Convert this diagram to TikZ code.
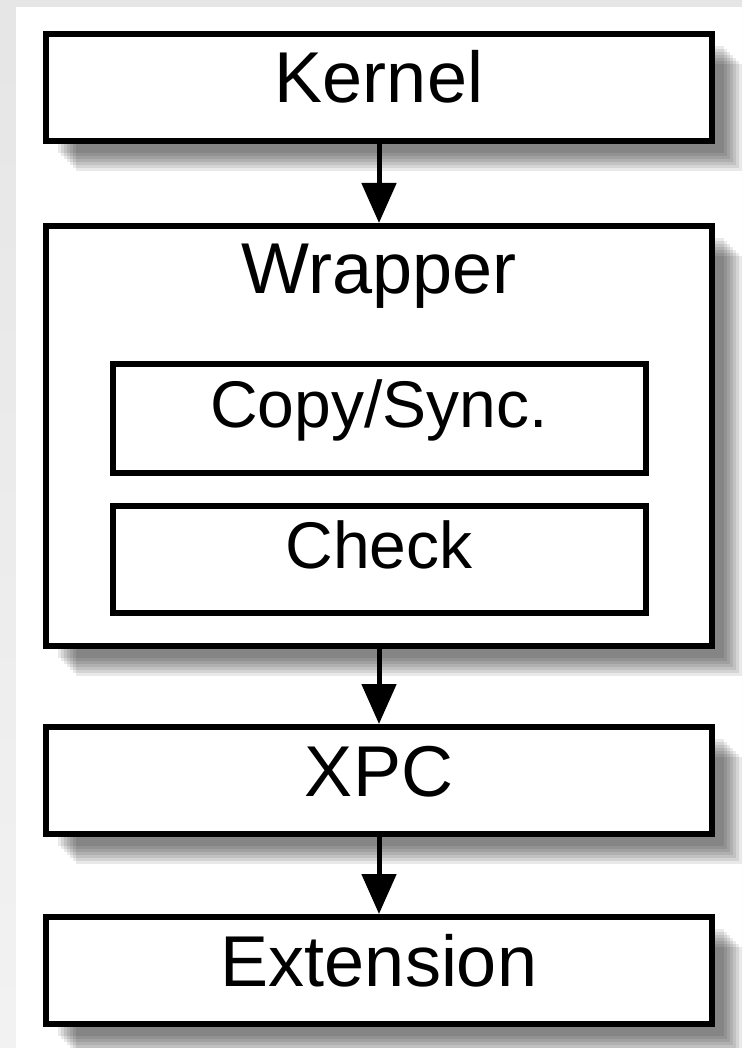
\documentclass[tikz,border=0pt]{standalone}
\usepackage{fontspec}
\setmainfont{Liberation Sans}
\usetikzlibrary{positioning, arrows.meta}
\tikzset{>={Triangle[width=34pt,length=40pt]}, % big solid heads on the links
shadelayer/.style={preaction={fill=black, fill opacity=.085,
    transform canvas={shift={(#1,-#1)}}}}, % one layer of the soft shadow
shadowed/.style={shadelayer=12pt, shadelayer=15pt, shadelayer=18pt,
    shadelayer=21pt, shadelayer=24pt, shadelayer=27pt, shadelayer=30pt},
bigtext/.style={font=\fontsize{72}{86}\selectfont,
    text height=52pt, text depth=21pt}, % pushes the words a bit up
box/.style={draw, fill=white, line width=6pt, inner sep=0pt,
    minimum width=666pt, minimum height=107pt, bigtext},
subbox/.style={box, minimum width=533pt, minimum height=108pt,
    font=\fontsize{66}{79}\selectfont, text height=47pt, text depth=29pt},
link/.style={->, line width=5pt},
}

\begin{document}
\begin{tikzpicture}[x=1pt, y=1pt]
  % page: grey border strip on the left and top
  \shade[top color=black!10, bottom color=black!5] (0,0) rectangle (742,-1048);
  \fill[white] (16,-7) rectangle (742,-1048);
  \useasboundingbox (0,0) rectangle (742,-1048);

  \node[box, shadowed] (kernel) at (379,-87.5) {Kernel};
  \node[box, shadowed, minimum height=420pt, below=79pt of kernel] (wrapper) {};
  \node[inner sep=0pt, bigtext, below=18pt of wrapper.north] (wraptitle) {Wrapper};
  \node[subbox, minimum height=109pt, below=138pt of wrapper.north] (copy) {Copy/Sync.};
  \node[subbox, minimum height=107pt, below=27pt of copy] (check) {Check};
  \node[box, shadowed, below=75pt of wrapper] (xpc) {XPC};
  \node[box, shadowed, below=77pt of xpc] (ext) {Extension};

  \draw (kernel) edge[link] (wrapper)
        (wrapper) edge[link] (xpc)
        (xpc) edge[link] (ext);

\end{tikzpicture}
\end{document}
